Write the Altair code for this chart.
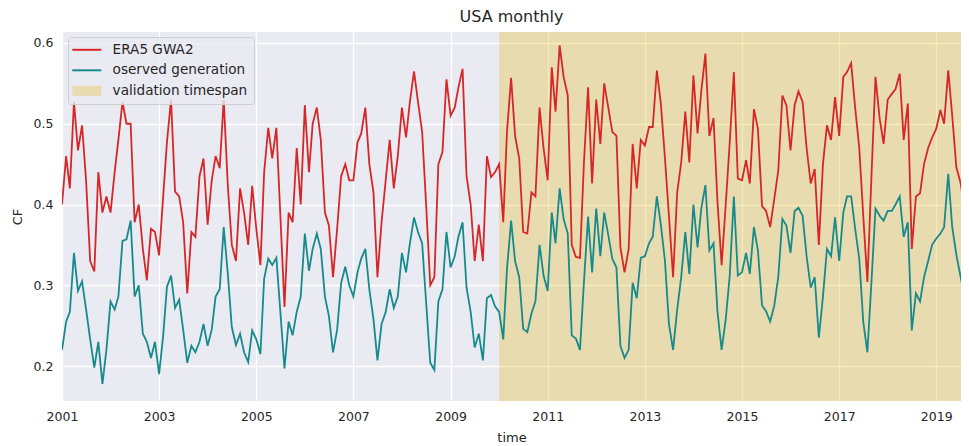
import altair as alt
import pandas as pd

# ERA5 GWA2 monthly capacity factor, 2001-01 .. 2019-09
era5 = [
    0.40, 0.46, 0.42, 0.527, 0.467, 0.498, 0.43, 0.33, 0.317, 0.44, 0.39, 0.41,
    0.39, 0.44, 0.48, 0.527, 0.50, 0.50, 0.378, 0.40, 0.345, 0.306, 0.37, 0.366,
    0.337, 0.41, 0.477, 0.53, 0.416, 0.41, 0.378, 0.29, 0.366, 0.36, 0.435, 0.457,
    0.375, 0.43, 0.46, 0.445, 0.53, 0.423, 0.35, 0.33, 0.42, 0.39, 0.35, 0.423,
    0.37, 0.325, 0.44, 0.495, 0.457, 0.495, 0.386, 0.273, 0.39, 0.378, 0.47, 0.40,
    0.523, 0.44, 0.50, 0.52, 0.48, 0.39, 0.374, 0.31, 0.37, 0.435, 0.45, 0.43,
    0.43, 0.477, 0.488, 0.52, 0.45, 0.415, 0.31, 0.378, 0.43, 0.48, 0.42, 0.46,
    0.52, 0.483, 0.527, 0.565, 0.527, 0.49, 0.40, 0.30, 0.31, 0.45, 0.465, 0.555,
    0.51, 0.52, 0.545, 0.568, 0.435, 0.40, 0.33, 0.375, 0.33, 0.46, 0.434, 0.44,
    0.45, 0.378, 0.49, 0.557, 0.485, 0.457, 0.366, 0.364, 0.415, 0.41, 0.52, 0.47,
    0.43, 0.57, 0.515, 0.597, 0.558, 0.535, 0.35, 0.335, 0.334, 0.453, 0.545, 0.426,
    0.53, 0.475, 0.55, 0.52, 0.49, 0.485, 0.347, 0.316, 0.345, 0.475, 0.42, 0.48,
    0.473, 0.496, 0.496, 0.566, 0.525, 0.457, 0.386, 0.31, 0.415, 0.452, 0.515, 0.452,
    0.56, 0.488, 0.54, 0.587, 0.485, 0.507, 0.403, 0.325, 0.40, 0.477, 0.564, 0.432,
    0.43, 0.455, 0.426, 0.518, 0.494, 0.398, 0.392, 0.372, 0.407, 0.442, 0.535, 0.523,
    0.467, 0.523, 0.54, 0.527, 0.47, 0.426, 0.444, 0.35, 0.45, 0.498, 0.48, 0.533,
    0.485, 0.558, 0.564, 0.575, 0.52, 0.47, 0.386, 0.304, 0.436, 0.558, 0.507, 0.475,
    0.53, 0.537, 0.543, 0.562, 0.48, 0.525, 0.345, 0.41, 0.414, 0.45, 0.47, 0.483,
    0.494, 0.517, 0.50, 0.566, 0.51, 0.446, 0.428, 0.395, 0.53,
]

# observed generation monthly capacity factor
observed = [
    0.22, 0.255, 0.267, 0.34, 0.293, 0.305, 0.27, 0.233, 0.198, 0.23, 0.178, 0.22,
    0.28, 0.27, 0.286, 0.355, 0.357, 0.38, 0.286, 0.30, 0.24, 0.23, 0.21, 0.23,
    0.19, 0.238, 0.298, 0.312, 0.272, 0.282, 0.245, 0.204, 0.225, 0.217, 0.23, 0.252,
    0.225, 0.245, 0.286, 0.295, 0.372, 0.314, 0.248, 0.226, 0.24, 0.217, 0.205, 0.244,
    0.233, 0.215, 0.308, 0.333, 0.325, 0.334, 0.267, 0.197, 0.255, 0.238, 0.267, 0.286,
    0.364, 0.318, 0.345, 0.364, 0.345, 0.286, 0.262, 0.217, 0.245, 0.303, 0.323, 0.30,
    0.286, 0.316, 0.333, 0.345, 0.295, 0.258, 0.207, 0.252, 0.267, 0.295, 0.272, 0.286,
    0.34, 0.316, 0.352, 0.384, 0.366, 0.352, 0.279, 0.204, 0.195, 0.28, 0.295, 0.366,
    0.322, 0.336, 0.36, 0.378, 0.297, 0.267, 0.223, 0.24, 0.207, 0.284, 0.288, 0.274,
    0.267, 0.233, 0.32, 0.38, 0.33, 0.31, 0.246, 0.242, 0.265, 0.28, 0.35, 0.312,
    0.293, 0.39, 0.352, 0.42, 0.382, 0.364, 0.238, 0.234, 0.22, 0.305, 0.385, 0.316,
    0.395, 0.336, 0.39, 0.362, 0.333, 0.322, 0.225, 0.21, 0.22, 0.303, 0.284, 0.334,
    0.336, 0.352, 0.36, 0.41, 0.375, 0.33, 0.252, 0.22, 0.27, 0.31, 0.366, 0.314,
    0.40, 0.347, 0.395, 0.424, 0.343, 0.352, 0.267, 0.22, 0.258, 0.312, 0.41, 0.312,
    0.316, 0.34, 0.314, 0.372, 0.343, 0.275, 0.268, 0.255, 0.275, 0.31, 0.382, 0.374,
    0.34, 0.392, 0.396, 0.386, 0.336, 0.297, 0.31, 0.235, 0.286, 0.345, 0.336, 0.384,
    0.33, 0.39, 0.41, 0.41, 0.37, 0.333, 0.255, 0.217, 0.305, 0.395, 0.386, 0.38,
    0.392, 0.392, 0.40, 0.41, 0.36, 0.378, 0.244, 0.29, 0.28, 0.31, 0.33, 0.35,
    0.358, 0.364, 0.372, 0.438, 0.372, 0.338, 0.312, 0.286, 0.378,
]

series_names = ["ERA5 GWA2", "oserved generation", "validation timespan"]
series_colors = ["#d62728", "#178a8b", "#e3bb16"]
start_month = "2001-01-01"
validation_start = "2010-01-01"
validation_end = "2019-09-01"
year_ticks = list(range(2001, 2020, 2))
y_ticks = [0.2, 0.3, 0.4, 0.5, 0.6]

n = len(era5)
months = pd.date_range(start_month, periods=n, freq="MS")
lines_df = pd.DataFrame({
    "time": list(months) + list(months),
    "CF": era5 + observed,
    "series": [series_names[0]] * n + [series_names[1]] * n,
})
span_df = pd.DataFrame({
    "start": [pd.Timestamp(validation_start)],
    "end": [pd.Timestamp(validation_end)],
    "series": [series_names[2]],
})

# the visible window (page width limits the right edge)
x_scale = alt.Scale(domain=[alt.DateTime(year=2001, month=1, date=1),
                            alt.DateTime(year=2019, month=7, date=6)])
y_scale = alt.Scale(domain=[0.1567, 0.6136], nice=False, zero=False)

is_span = "datum.value == 'validation timespan'"
legend = alt.Legend(
    title=None, orient="none", legendX=6, legendY=5, direction="vertical",
    fillColor="rgba(234,234,242,0.8)", strokeColor="rgba(204,204,204,0.9)",
    cornerRadius=3, padding=6,
    labelFont="DejaVu Sans", labelFontSize=13.6, labelColor="#262626", labelLimit=400,
    symbolSize=210, symbolOffset=6, labelOffset=19, rowPadding=5.5,
    symbolType=alt.ExprRef(expr=f"{is_span} ? 'M-2,-0.69H2V0.69H-2Z' : 'M-2,0H2'"),
    symbolStrokeWidth=alt.ExprRef(expr=f"{is_span} ? 0 : 2"),
    symbolOpacity=alt.ExprRef(expr=f"{is_span} ? 0.3 : 1"),
    symbolFillColor=alt.ExprRef(expr=f"{is_span} ? '{series_colors[2]}' : 'transparent'"),
)
color = alt.Color("series:N", scale=alt.Scale(domain=series_names, range=series_colors), legend=legend)

x_axis = alt.Axis(values=[alt.DateTime(year=y, month=1, date=1) for y in year_ticks],
                  format="%Y", title="time", labelPadding=9, titlePadding=9, labelFlush=False)
y_axis = alt.Axis(values=y_ticks, format=".1f", title="CF", labelPadding=9, titlePadding=9)

span = alt.Chart(span_df).mark_rect(opacity=0.3, clip=True).encode(
    x=alt.X("start:T", scale=x_scale, axis=x_axis),
    x2="end:T",
    color=color,
)

lines = alt.Chart(lines_df).mark_line(strokeWidth=1.8, clip=True).encode(
    x=alt.X("time:T", scale=x_scale, axis=x_axis),
    y=alt.Y("CF:Q", scale=y_scale, axis=y_axis),
    color=color,
)

chart = alt.layer(span, lines).properties(
    width=899, height=369,
    title=alt.TitleParams("USA monthly", font="DejaVu Sans", fontSize=16, fontWeight="normal",
                          color="#262626", offset=7, anchor="middle"),
    autosize=alt.AutoSizeParams(type="none"),
    padding={"left": 54, "top": 24, "right": 0, "bottom": 45},
).configure(
    background="white",
).configure_view(
    fill="#eaeaf2", stroke=None,
).configure_axis(
    domain=False, ticks=False, tickSize=0, grid=True, gridColor="white", gridWidth=1.3,
    labelFont="DejaVu Sans", labelFontSize=12.5, labelColor="#262626",
    titleFont="DejaVu Sans", titleFontSize=13, titleFontWeight="normal", titleColor="#262626",
)

chart.save("out.html", embed_options={"renderer": "svg", "actions": False})
